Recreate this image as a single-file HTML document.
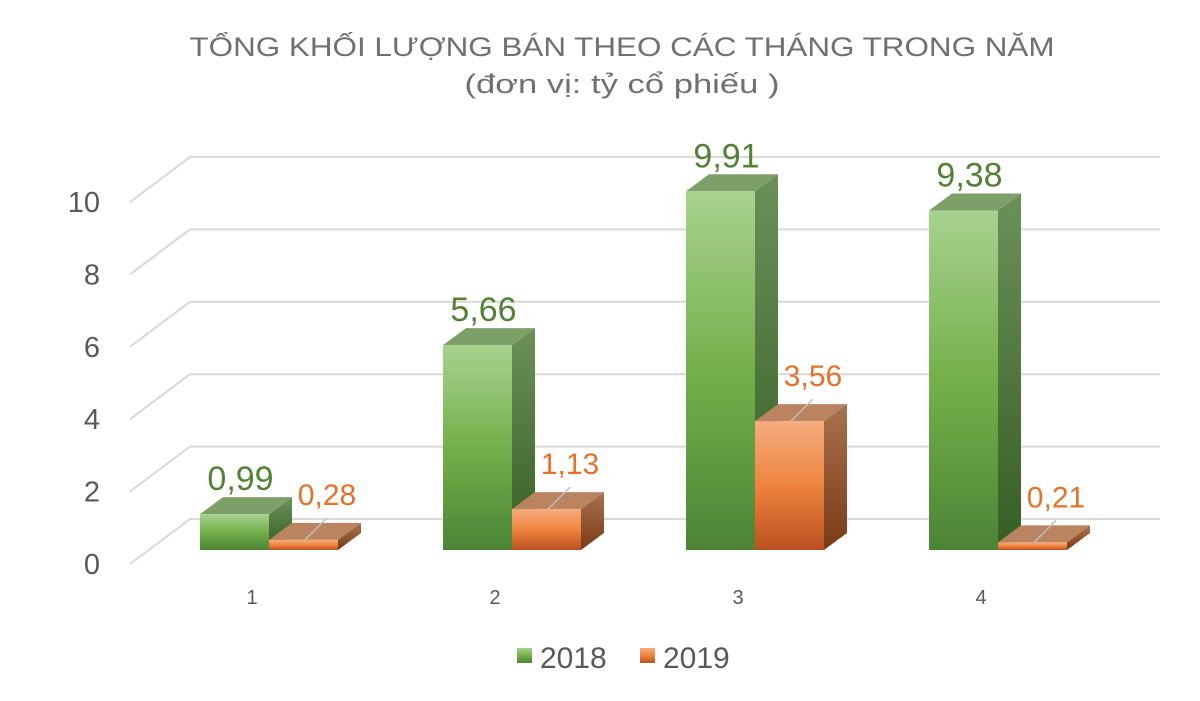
<!DOCTYPE html>
<html><head><meta charset="utf-8">
<style>
html,body{margin:0;padding:0;background:#fff;}
svg{display:block;font-family:"Liberation Sans",sans-serif;}
</style></head>
<body>
<svg id="chart" width="1200" height="701" viewBox="0 0 1200 701" xmlns="http://www.w3.org/2000/svg">
<defs>
<linearGradient id="gFront" x1="0" y1="0" x2="0" y2="1"><stop offset="0" stop-color="#a8d28f"/><stop offset="0.5" stop-color="#74b04a"/><stop offset="1" stop-color="#4c8435"/></linearGradient>
<linearGradient id="gSide" x1="0" y1="0" x2="0" y2="1"><stop offset="0" stop-color="#6a9158"/><stop offset="1" stop-color="#355e24"/></linearGradient>
<linearGradient id="oFront" x1="0" y1="0" x2="0" y2="1"><stop offset="0" stop-color="#f5ad80"/><stop offset="0.5" stop-color="#ee843d"/><stop offset="1" stop-color="#bb5122"/></linearGradient>
<linearGradient id="oSide" x1="0" y1="0" x2="0" y2="1"><stop offset="0" stop-color="#a8734e"/><stop offset="1" stop-color="#7a3a14"/></linearGradient>
</defs>
<text x="622" y="56" text-anchor="middle" font-size="27" fill="#707070" textLength="865" lengthAdjust="spacingAndGlyphs">TỔNG KHỐI LƯỢNG BÁN THEO CÁC THÁNG TRONG NĂM</text>
<text x="622" y="93" text-anchor="middle" font-size="27" fill="#707070" textLength="315" lengthAdjust="spacingAndGlyphs">(đơn vị: tỷ cổ phiếu )</text>
<g id="grid"></g>
<g id="bars"></g>
<g id="labels"></g>
<g>
<rect x="517" y="648" width="15" height="15" fill="url(#gFront)"/>
<text x="540" y="668" font-size="30" fill="#595959">2018</text>
<rect x="640" y="648" width="15" height="15" fill="url(#oFront)"/>
<text x="663" y="668" font-size="30" fill="#595959">2019</text>
</g>
</svg>
<script>
const categories = ["1","2","3","4"];
const series2018 = [0.99, 5.66, 9.91, 9.38];
const series2019 = [0.28, 1.13, 3.56, 0.21];
const yTicks = [0,2,4,6,8,10];
const yTickLabels = ["0","2","4","6","8","10"];
const fmt = v => v.toFixed(2).replace('.', ',');

const NS = "http://www.w3.org/2000/svg";
const UNIT = 36.2;
const backY = v => 519 - v * UNIT;
const frontY = v => 564 - v * UNIT;
const barY = v => 550 - v * UNIT;
const groupX = i => 200 + i * 243;
const BW = 69, DX = 23, DY = 17;
function mk(tag, attrs, parent){const e=document.createElementNS(NS,tag);for(const k in attrs)e.setAttribute(k,attrs[k]);parent.appendChild(e);return e;}
const grid = document.getElementById('grid');
const bars = document.getElementById('bars');
const labels = document.getElementById('labels');

yTicks.forEach((t,i)=>{
  const gl = mk('polyline',{points:`130,${frontY(t)} 190,${backY(t)} 1160,${backY(t)}`,fill:'none',stroke:'#d9d9d9','stroke-width':2},grid);
  
  
  const tl = mk('text',{x:100,y:frontY(t)+10,'text-anchor':'end','font-size':29,fill:'#595959'},grid);
  tl.textContent = yTickLabels[i];
  
  
});

function bar(x, v, front, side, topC, name){
  const g = mk('g',{},bars);
  
  
  const y0 = barY(0), y1 = barY(v);
  mk('polygon',{points:`${x+BW},${y1} ${x+BW+DX},${y1-DY} ${x+BW+DX},${y0-DY} ${x+BW},${y0}`,fill:side},g);
  mk('polygon',{points:`${x},${y1} ${x+DX},${y1-DY} ${x+BW+DX},${y1-DY} ${x+BW},${y1}`,fill:topC},g);
  mk('rect',{x:x,y:y1,width:BW,height:y0-y1,fill:front},g);
}

categories.forEach((c,i)=>{
  const gx = groupX(i);
  bar(gx, series2018[i], 'url(#gFront)', 'url(#gSide)', '#7d9f68', 'bar-2018-'+c);
  bar(gx+BW, series2019[i], 'url(#oFront)', 'url(#oSide)', '#b9845f', 'bar-2019-'+c);
  const gl = mk('text',{x:gx+BW/2+6,y:barY(series2018[i])-DY-7,'text-anchor':'middle','font-size':34,fill:'#548235'},labels);
  gl.textContent = fmt(series2018[i]);
  
  
  const oy = barY(series2019[i]);
  const ln = mk('line',{x1:gx+BW+36,y1:oy,x2:gx+BW+58,y2:oy-22,stroke:'#bfbfbf','stroke-width':1.5},labels);
  
  
  const ol = mk('text',{x:gx+BW+58,y:oy-35,'text-anchor':'middle','font-size':30,fill:'#e8702a'},labels);
  ol.textContent = fmt(series2019[i]);
  
  
  const xl = mk('text',{x:gx+52,y:604,'text-anchor':'middle','font-size':20,fill:'#595959'},labels);
  xl.textContent = c;
  
  
});
</script>
</body></html>
